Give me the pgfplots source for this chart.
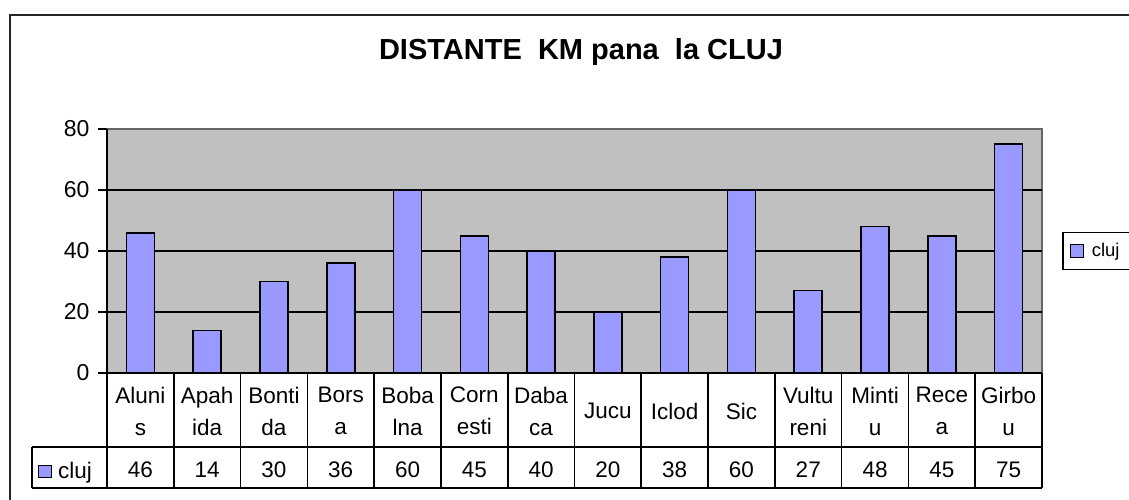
\documentclass[border=0pt]{standalone}
\usepackage{fontspec}
\setmainfont{Liberation Sans}
\usepackage{pgfplots}
\usepackage{pgfplotstable}
\pgfplotsset{compat=1.18}
\definecolor{barblue}{HTML}{9999FF}
\definecolor{plotgray}{HTML}{C0C0C0}
\pgfplotstableread{
x y
0 46
1 14
2 30
3 36
4 60
5 45
6 40
7 20
8 38
9 60
10 27
11 48
12 45
13 75
}\datatable
\begin{document}
\begin{tikzpicture}[x=1pt,y=1pt]
\useasboundingbox (0,0) rectangle (1129,-500);
\clip (0,0) rectangle (1129,-500);
\fill[white] (0,0) rectangle (1129,-500);
\draw[line width=2pt, black!85] (10,-15) rectangle (1160,-530);
\node[font=\fontsize{29}{32}\selectfont\bfseries] at (581,-52) {DISTANTE\ \ KM pana\ \ la CLUJ};
% table legend key
\draw[fill=barblue, draw=black, line width=1pt] (38,-465) rectangle (51,-477);
\node[anchor=base west, inner sep=0pt, font=\fontsize{22.5}{26}\selectfont] at (58,-478) {cluj};
\begin{axis}[
  at={(107pt,-373pt)}, anchor=south west,
  scale only axis, width=935pt, height=244pt,
  clip=false,
  xmin=-0.5, xmax=13.5, ymin=0, ymax=80,
  axis background/.style={fill=plotgray, draw=gray!80!black, line width=1.5pt},
  axis x line*=bottom, axis y line*=left,
  axis line style={black, line width=1.6pt},
  ytick={0,20,40,60,80},
  tick align=outside,
  ytick style={black, line width=1.6pt},
  major tick length=9pt,
  /pgf/number format/assume math mode=true,
  yticklabel style={font=\fontsize{23}{26}\selectfont, xshift=-5pt},
  xtick={0,...,13},
  xtick style={draw=none},
  xticklabels={{Aluni\\s},{Apah\\ida},{Bonti\\da},{Bors\\a},{Boba\\lna},{Corn\\esti},{Daba\\ca},{Jucu},{Iclod},{Sic},{Vultu\\reni},{Minti\\u},{Rece\\a},{Girbo\\u}},
  xticklabel style={anchor=center, yshift=-29pt, align=center, font=\fontsize{22.5}{32}\selectfont, inner sep=0pt},
  legend style={at={(1.0214,0.5)}, anchor=west, draw=black, line width=1.5pt,
    font=\fontsize{18.5}{21}\selectfont, inner xsep=7pt, inner ysep=9pt},
  legend image code/.code={\draw[fill=barblue, draw=black, line width=1pt] (2pt,-6.5pt) rectangle (15pt,6.5pt);},
]
\pgfplotsinvokeforeach{20,40,60}{\draw[black, line width=1.6pt] (axis cs:-0.5,#1) -- (axis cs:13.5,#1);}
\addplot[ybar, bar width=28pt, fill=barblue, draw=black, line width=1.6pt] table[x=x, y=y] {\datatable};
\addlegendentry{\hspace*{6pt}cluj\hspace*{16pt}\mbox{}}
\addplot[forget plot, draw=none, mark=none, nodes near coords, point meta=explicit,
  nodes near coords style={anchor=center, yshift=-97pt, font=\fontsize{22.5}{26}\selectfont, inner sep=0pt}]
  table[x=x, y expr=0, meta=y] {\datatable};
% table grid
\pgfplotsinvokeforeach{0,...,14}{\draw[black, line width=1.6pt] (axis cs:#1-0.5,0) -- ++(0pt,-115pt);}
\draw[black, line width=1.6pt] ([xshift=-75pt,yshift=-74pt]rel axis cs:0,0) -- ([yshift=-74pt]rel axis cs:1,0);
\draw[black, line width=1.6pt] ([xshift=-75pt,yshift=-115pt]rel axis cs:0,0) -- ([yshift=-115pt]rel axis cs:1,0);
\draw[black, line width=1.6pt] ([xshift=-75pt,yshift=-74pt]rel axis cs:0,0) -- ([xshift=-75pt,yshift=-115pt]rel axis cs:0,0);
\end{axis}
\end{tikzpicture}
\end{document}
